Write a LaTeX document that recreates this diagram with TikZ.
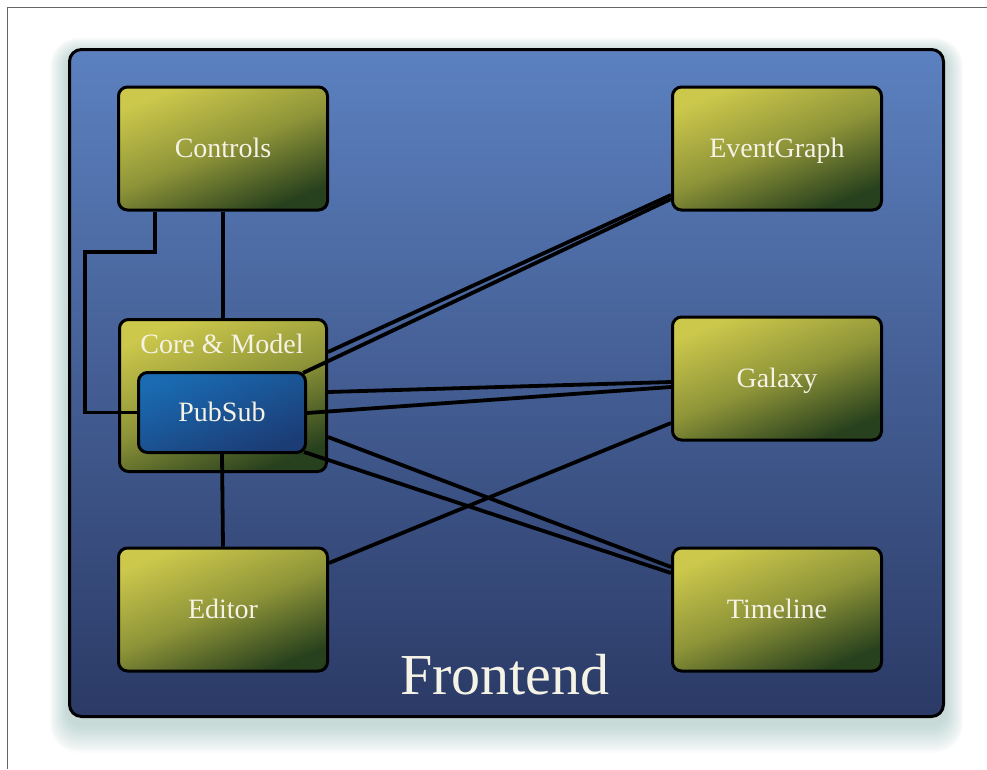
\documentclass[tikz,border=0pt]{standalone}
\usepackage{fontspec}
\setmainfont{Liberation Serif}
\usetikzlibrary{calc}
\pgfdeclarelayer{bg}
\pgfdeclarelayer{lines}
\pgfsetlayers{bg,lines,main}
\definecolor{feTop}{HTML}{5C81C0}
\definecolor{feBot}{HTML}{2B3A66}
\definecolor{olA}{HTML}{CCC84C}
\definecolor{olB}{HTML}{8E9438}
\definecolor{olC}{HTML}{27401D}
\definecolor{psA}{HTML}{1A6BB2}
\definecolor{psB}{HTML}{1B3C75}
\definecolor{cream}{HTML}{F5F2E6}
\definecolor{glow}{HTML}{9EC4C0}
\definecolor{framecol}{HTML}{666666}
\begin{document}
\begin{tikzpicture}[x=1pt,y=-1pt,
  labelfont/.style={font=\fontsize{28}{32}\selectfont},
  box/.style={draw=black, line width=3pt, rounded corners=9pt, inner sep=0pt,
    minimum width=209pt, minimum height=123pt,
    top color=olA, bottom color=olC, middle color=olB, shading angle=22,
    text=cream, labelfont, text height=23pt, text depth=6pt},
  psbox/.style={draw=black, line width=3pt, rounded corners=9pt, inner sep=0pt,
    minimum width=167pt, minimum height=80pt,
    top color=psA, bottom color=psB, shading angle=22,
    text=cream, labelfont, text height=23pt, text depth=6pt},
  conn/.style={draw=black, line width=3.8pt}]
\useasboundingbox (0,0) rectangle (987,769);

\begin{pgfonlayer}{bg}
  \fill[white] (0,0) rectangle (987,769);
  \draw[framecol, line width=1.5pt] (7.5,769) -- (7.5,7.5) -- (987,7.5);
  \foreach \i in {1,...,18} {
    \fill[glow, opacity=0.04, rounded corners=14pt+0.8*\i]
      (68-1.0*\i, 54-0.9*\i) rectangle (945+1.0*\i, 724+1.6*\i);
  }
  \node[draw=black, line width=3pt, rounded corners=12pt, inner sep=0pt,
    minimum width=874pt, minimum height=667pt,
    top color=feTop, bottom color=feBot] (fe) at (506.5,383) {};
  \node[box, minimum width=207pt, minimum height=152pt] (core) at (223,395.5) {};
  \node[text=cream, labelfont] (coretxt) at (222,344) {Core \& Model};
\end{pgfonlayer}

\node[box] (ctrl) at (223,148.5) {Controls};
\node[box] (eg) at (777,148.5) {EventGraph};
\node[box] (gal) at (777,378.5) {Galaxy};
\node[box] (ed) at (223,609.5) {Editor};
\node[box] (tl) at (777,609.5) {Timeline};
\node[psbox] (ps) at (222,412.5) {PubSub};
\node[text=cream, font=\fontsize{58}{64}\selectfont, anchor=base] (fetxt) at (505,694) {Frontend};

\begin{pgfonlayer}{lines}
  \draw[conn] (ctrl.south -| 155,0) |- (85,252) |- (ps.west);
  \draw[conn] (ctrl.south) -- (core.north);
  \draw[conn] (core.east |- 0,352) -- (eg.west |- 0,195);
  \draw[conn] ($(ps.north east)+(-4,2)$) -- (eg.west |- 0,199);
  \draw[conn] (core.east |- 0,392) -- (gal.west |- 0,382);
  \draw[conn] (ps.east |- 0,413) -- (gal.west |- 0,387);
  \draw[conn] (gal.west |- 0,423) -- (ed.east |- 0,563);
  \draw[conn] (core.east |- 0,437) -- (tl.west |- 0,567);
  \draw[conn] ($(ps.south east)+(-3,-2)$) -- (tl.west |- 0,573);
  \draw[conn] (ps.south) -- (ed.north);
\end{pgfonlayer}
\end{tikzpicture}
\end{document}
